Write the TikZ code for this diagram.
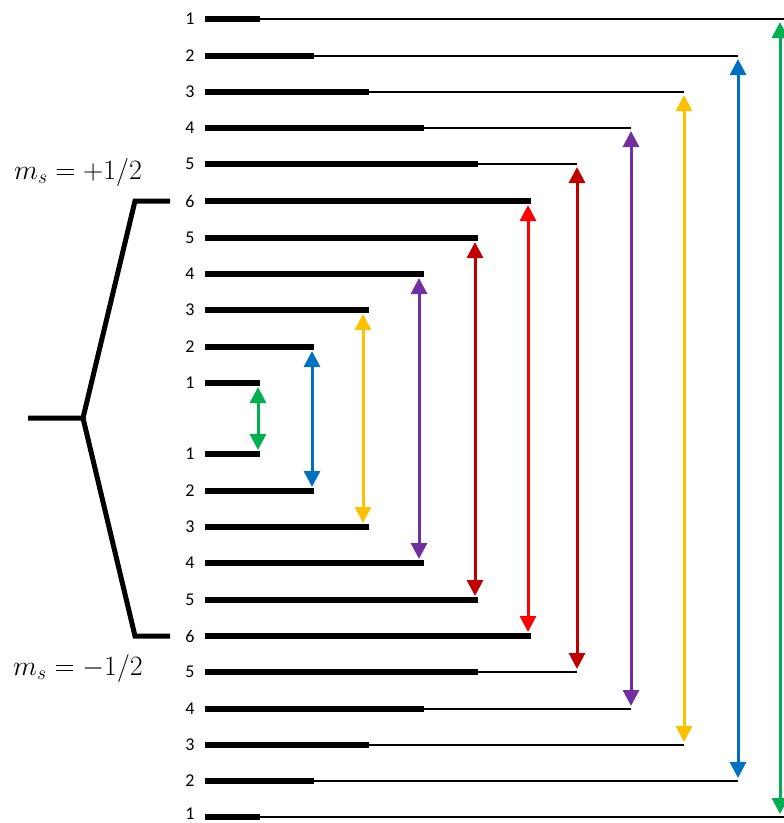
\RequirePackage{fix-cm}
\documentclass[tikz,border=0pt]{standalone}
\usepackage{fontspec}
\newfontfamily\numfont{Carlito}
\usetikzlibrary{arrows.meta}
\definecolor{cgreen}{HTML}{00B050}
\definecolor{cblue}{HTML}{0070C0}
\definecolor{cyellow}{HTML}{FFC000}
\definecolor{cpurple}{HTML}{7030A0}
\definecolor{cdred}{HTML}{C00000}
\definecolor{cred}{HTML}{FF0000}
\tikzset{
  lbl/.style={font=\numfont\fontsize{18}{18}\selectfont, inner sep=0pt, anchor=center},
  lev/.style={line width=6pt, line cap=butt},
  thinlev/.style={line width=1.8pt},
  brk/.style={line width=5pt, line join=miter},
  arr/.style={line width=3pt, {Triangle[width=16pt,length=16pt]}-{Triangle[width=16pt,length=16pt]}, shorten <=1pt, shorten >=1pt},
  mslbl/.style={font=\fontsize{28}{28}\selectfont, inner sep=0pt}
}
\begin{document}
\begin{tikzpicture}[x=1pt,y=-1pt]
\useasboundingbox (0,0) rectangle (784,823);

% upper outer block (levels 1..5 of upper manifold)
\foreach \k/\y/\e/\o in {1/19/260/784,2/56/314/738,3/92/369/684,4/128/424/631,5/164/478/577}{
  \node[lbl] (UL\k) at (190,\y) {\k};
  \coordinate (US\k) at (205,\y);
  \coordinate (UE\k) at (\e,\y);
  \coordinate (UO\k) at (\o,\y);
  \draw[lev] (US\k) -- (UE\k);
  \draw[thinlev] (UE\k) -- (UO\k);
}
% upper 6
\node[lbl] (UL6) at (190,201) {6};
\coordinate (US6) at (205,201);
\coordinate (UE6) at (531,201);
\draw[lev] (US6) -- (UE6);
% upper inner block (5..1 of upper manifold)
\foreach \k/\y/\e in {5/238/478,4/274/424,3/310/369,2/347/314,1/383/260}{
  \node[lbl] (UIL\k) at (190,\y) {\k};
  \coordinate (UIS\k) at (205,\y);
  \coordinate (UIE\k) at (\e,\y);
  \draw[lev] (UIS\k) -- (UIE\k);
}
% lower inner block
\foreach \k/\y/\e in {1/454/260,2/491/314,3/527/369,4/563/424,5/600/478}{
  \node[lbl] (LIL\k) at (190,\y) {\k};
  \coordinate (LIS\k) at (205,\y);
  \coordinate (LIE\k) at (\e,\y);
  \draw[lev] (LIS\k) -- (LIE\k);
}
% lower 6
\node[lbl] (LL6) at (190,636) {6};
\coordinate (LS6) at (205,636);
\coordinate (LE6) at (531,636);
\draw[lev] (LS6) -- (LE6);
% lower outer block
\foreach \k/\y/\e/\o in {5/672/478/577,4/709/424/631,3/745/369/684,2/781/314/738}{
  \node[lbl] (LL\k) at (190,\y) {\k};
  \coordinate (LS\k) at (205,\y);
  \coordinate (LE\k) at (\e,\y);
  \coordinate (LO\k) at (\o,\y);
  \draw[lev] (LS\k) -- (LE\k);
  \draw[thinlev] (LE\k) -- (LO\k);
}
\node[lbl] (LL1) at (190,814) {1};
\coordinate (LS1) at (205,817);
\coordinate (LE1) at (260,817);
\coordinate (LO1) at (784,817);
\draw[lev] (LS1) -- (LE1);
\draw[thinlev] (LE1) -- (LO1);

% inner arrows
\coordinate (a1t) at (258,386); \coordinate (a1b) at (258,451);
\coordinate (a2t) at (312,350); \coordinate (a2b) at (312,488);
\coordinate (a3t) at (363,313); \coordinate (a3b) at (363,524);
\coordinate (a4t) at (419,277); \coordinate (a4b) at (419,560);
\coordinate (a5t) at (475,241); \coordinate (a5b) at (475,597);
\coordinate (a6t) at (528,204); \coordinate (a6b) at (528,633);
\draw[arr, cgreen] (a1t) -- (a1b);
\draw[arr, cblue] (a2t) -- (a2b);
\draw[arr, cyellow] (a3t) -- (a3b);
\draw[arr, cpurple] (a4t) -- (a4b);
\draw[arr, cdred] (a5t) -- (a5b);
\draw[arr, cred] (a6t) -- (a6b);
% outer arrows
\coordinate (b5t) at (577,166); \coordinate (b5b) at (577,670);
\coordinate (b4t) at (631,130); \coordinate (b4b) at (631,707);
\coordinate (b3t) at (684,94); \coordinate (b3b) at (684,743);
\coordinate (b2t) at (738,58); \coordinate (b2b) at (738,779);
\coordinate (b1t) at (780,21); \coordinate (b1b) at (780,815);
\draw[arr, cdred] (b5t) -- (b5b);
\draw[arr, cpurple] (b4t) -- (b4b);
\draw[arr, cyellow] (b3t) -- (b3b);
\draw[arr, cblue] (b2t) -- (b2b);
\draw[arr, cgreen] (b1t) -- (b1b);

% left splitting bracket
\coordinate (s0) at (28,418);
\coordinate (s1) at (83,418);
\coordinate (su) at (135,201);
\coordinate (sue) at (170,201);
\coordinate (sl) at (135,636);
\coordinate (sle) at (170,636);
\draw[brk] (s0) -- (s1) -- (su) -- (sue);
\draw[brk] (s1) -- (sl) -- (sle);

\node[mslbl] (msp) at (78,172) {$m_s = +1/2$};
\node[mslbl] (msm) at (78,668) {$m_s = -1/2$};
\end{tikzpicture}
\end{document}
